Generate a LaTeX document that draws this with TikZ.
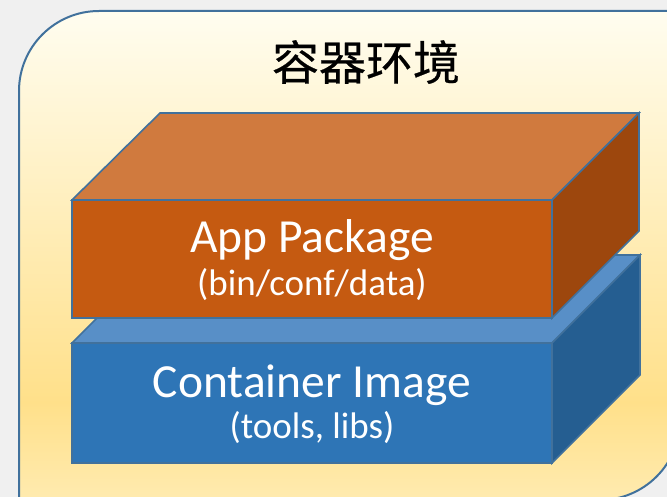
\documentclass[tikz,border=0pt]{standalone}
\usepackage{fontspec}
\setmainfont{Carlito}
\newfontfamily\cjk[FakeBold=0.5]{Noto Sans CJK SC}

\definecolor{pagegray}{HTML}{F0F0F0}
\definecolor{framecol}{HTML}{41719C}
\definecolor{creamtop}{HTML}{FFFDF0}
\definecolor{yellowmid}{HTML}{FFE08A}
\definecolor{yellowlow}{HTML}{FFEBB0}
\definecolor{orfront}{HTML}{C55A11}
\definecolor{ortop}{HTML}{D07A3E}
\definecolor{orside}{HTML}{9D470D}
\definecolor{blfront}{HTML}{2E75B6}
\definecolor{bltop}{HTML}{588FC7}
\definecolor{blside}{HTML}{255E91}

\tikzset{
  frame/.style={draw=framecol, line width=2pt},
  facet/.style={draw=framecol, line width=1.6pt, line join=miter},
  bigtext/.style={text=white, anchor=base, inner sep=0pt, font=\fontsize{47.5}{50}\selectfont},
  smalltext/.style={text=white, anchor=base, inner sep=0pt, font=\fontsize{37}{40}\selectfont},
}

\begin{document}
\begin{tikzpicture}[x=1pt, y=-1pt]
\useasboundingbox (0,0) rectangle (667,497);
\fill[pagegray] (0,0) rectangle (667,497);

% panel with two rounded (diagonal) corners
\def\panelpath{(19,500) -- (19,91) arc[start angle=180, end angle=270, radius=80]
  -- (680,11) -- (680,420) arc[start angle=0, end angle=90, radius=80] -- cycle}
\begin{scope}
  \clip \panelpath;
  \shade[top color=creamtop, bottom color=yellowmid] (0,10) rectangle (700,402);
  \shade[top color=yellowmid, bottom color=yellowlow] (0,402) rectangle (700,501);
\end{scope}
\draw[frame] \panelpath;

% lower block: container image
\filldraw[facet, fill=blfront] (72,343) rectangle (552,463);
\filldraw[facet, fill=bltop] (72,343) -- (160,255) -- (640,255) -- (552,343) -- cycle;
\filldraw[facet, fill=blside] (552,343) -- (640,255) -- (640,375) -- (552,463) -- cycle;

% upper block: app package
\filldraw[facet, fill=orfront] (72,200) rectangle (552,318);
\filldraw[facet, fill=ortop] (72,200) -- (160,113) -- (639,113) -- (552,200) -- cycle;
\filldraw[facet, fill=orside] (552,200) -- (639,113) -- (639,231) -- (552,318) -- cycle;

% labels
\node[anchor=base, inner sep=0pt, font=\cjk\fontsize{47}{50}\selectfont] (title) at (366,80) {容器环境};
\node[bigtext] (app) at (312,253) {App Package};
\node[smalltext] (appsub) at (312,295) {(bin/conf/data)};
\node[bigtext] (img) at (312,397) {Container Image};
\node[smalltext] (imgsub) at (312,438) {(tools, libs)};
\end{tikzpicture}
\end{document}
